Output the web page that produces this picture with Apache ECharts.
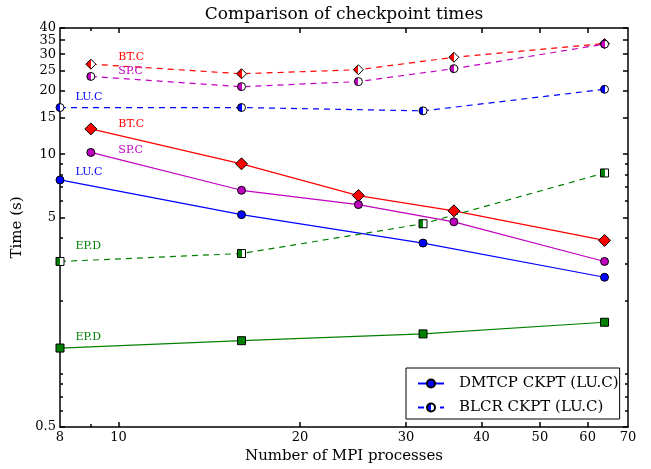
<!DOCTYPE html>
<html><head><meta charset="utf-8">
<script src="https://cdn.jsdelivr.net/npm/echarts@6/dist/echarts.min.js"></script>
<style>html,body{margin:0;padding:0;background:#fff}#c{width:651px;height:469px}</style>
</head><body><div id="c"></div>
<script>
// ---- data ----
const procsLU = [8, 16, 32, 64];
const procsBTSP = [9, 16, 25, 36, 64];
const procsEP = [8, 16, 32, 64];
const dmtcpLU = [7.54, 5.15, 3.77, 2.59];
const blcrLU = [16.7, 16.7, 16.1, 20.4];
const dmtcpBT = [13.2, 9.0, 6.35, 5.37, 3.88];
const blcrBT = [26.9, 24.2, 25.3, 29.0, 33.7];
const dmtcpSP = [10.2, 6.73, 5.75, 4.76, 3.08];
const blcrSP = [23.5, 21.0, 22.2, 25.6, 33.5];
const dmtcpEP = [1.19, 1.29, 1.39, 1.58];
const blcrEP = [3.08, 3.36, 4.66, 8.14];
const xLabelTicks = [8, 10, 20, 30, 40, 50, 60, 70];
const xMajorTicks = [10, 20, 30, 40, 50, 60];
const xMinorTicks = [9];
const yLabelTicks = [0.5, 5, 10, 15, 20, 25, 30, 35, 40];
const yMinorTicks = [0.6, 0.7, 0.8, 0.9, 2, 3, 4, 6, 7, 8, 9];

const FONT = 'DejaVu Serif';
const RED = '#ff0000', MAG = '#bf00bf', BLUE = '#0000ff', GREEN = '#008000';

function half(c) {
  return {type: 'linear', x: 0, y: 0, x2: 1, y2: 0, colorStops: [
    {offset: 0, color: c}, {offset: 0.5, color: c},
    {offset: 0.5, color: '#ffffff'}, {offset: 1, color: '#ffffff'}]};
}
function mk(name, xs, ys, color, dashed, symbol, size, labelText, lo) {
  const data = xs.map((x, i) => {
    const d = {value: [x, ys[i]]};
    if (i === 0) d.label = {show: true, formatter: labelText, position: 'right', distance: 0,
      offset: lo, color: color, fontFamily: FONT, fontSize: 11};
    return d;
  });
  return {
    name: name, type: 'line', data: data, symbol: symbol, symbolSize: size,
    xAxisIndex: 0, yAxisIndex: 0,
    lineStyle: {color: color, width: 1.2, type: dashed ? [6, 5] : 'solid'},
    itemStyle: {color: dashed ? half(color) : color, borderColor: '#000', borderWidth: 1},
    emphasis: {disabled: true},
    animation: false
  };
}

const tickStyle = {color: '#000', width: 1.5};
function labelCfg(labels) {
  return labels ? {show: true, customValues: labels, fontFamily: FONT, fontSize: 13, color: '#000',
    margin: 4, showMinLabel: true, showMaxLabel: true, hideOverlap: false}
    : {show: false};
}
function xAx(pos, ticks, len, labels, line) {
  return {type: 'log', logBase: 10, min: 8, max: 70.0001, position: pos, gridIndex: 0,
    axisLine: {show: line, onZero: false, lineStyle: {color: '#000', width: 1.5}},
    axisTick: {show: true, inside: true, length: len, customValues: ticks, lineStyle: tickStyle},
    axisLabel: labelCfg(labels),
    splitLine: {show: false}, minorTick: {show: false}, minorSplitLine: {show: false}};
}
function yAx(pos, ticks, len, labels, line) {
  return {type: 'log', logBase: 10, min: 0.5, max: 40.0001, position: pos, gridIndex: 0,
    axisLine: {show: line, onZero: false, lineStyle: {color: '#000', width: 1.5}},
    axisTick: {show: true, inside: true, length: len, customValues: ticks, lineStyle: tickStyle},
    axisLabel: labelCfg(labels),
    splitLine: {show: false}, minorTick: {show: false}, minorSplitLine: {show: false}};
}

const xMain = xAx('bottom', xMajorTicks, 5, xLabelTicks, true);
xMain.name = 'Number of MPI processes';
xMain.nameLocation = 'middle';
xMain.nameGap = 22;
xMain.nameTextStyle = {fontFamily: FONT, fontSize: 15, color: '#000'};
// labels split over two overlapping left axes so the tightly packed top labels are all kept
const yMain = yAx('left', yLabelTicks, 5, yLabelTicks.slice(0, -1), true);
yMain.name = 'Time (s)';
yMain.nameLocation = 'middle';
yMain.nameGap = 27;
yMain.nameTextStyle = {fontFamily: FONT, fontSize: 15, color: '#000'};
const yMinorLeft = yAx('left', yMinorTicks, 3, yLabelTicks.slice(-1), false);

const option = {
  animation: false,
  backgroundColor: '#ffffff',
  title: {text: 'Comparison of checkpoint times', left: 344, top: 6, textAlign: 'center', padding: 0,
    textStyle: {fontFamily: FONT, fontSize: 17, fontWeight: 'normal', color: '#000'}},
  grid: {left: 60, right: 23, top: 28, bottom: 42, containLabel: false, outerBoundsMode: 'none'},
  xAxis: [xMain,
    xAx('bottom', xMinorTicks, 3, null, false),
    xAx('top', xMajorTicks, 5, null, true),
    xAx('top', xMinorTicks, 3, null, false)],
  yAxis: [yMain,
    yMinorLeft,
    yAx('right', yLabelTicks, 5, null, true),
    yAx('right', yMinorTicks, 3, null, false)],
  legend: {
    data: ['DMTCP CKPT (LU.C)', 'BLCR CKPT (LU.C)'],
    orient: 'vertical', left: 406, top: 368,
    backgroundColor: '#fff', borderColor: '#000', borderWidth: 1, borderRadius: 0,
    padding: [8, 1, 4, 11], itemGap: 9, itemWidth: 26, itemHeight: 10,
    textStyle: {fontFamily: FONT, fontSize: 15, color: '#000', padding: [0, 0, 0, 10]},
    selectedMode: false
  },
  series: [
    mk('DMTCP CKPT (LU.C)', procsLU, dmtcpLU, BLUE, false, 'circle', 8, 'LU.C', [11, -8]),
    mk('BLCR CKPT (LU.C)', procsLU, blcrLU, BLUE, true, 'circle', 8, 'LU.C', [11, -10]),
    mk('DMTCP CKPT (BT.C)', procsBTSP, dmtcpBT, RED, false, 'diamond', 12, 'BT.C', [21, -5]),
    mk('BLCR CKPT (BT.C)', procsBTSP, blcrBT, RED, true, 'diamond', 10, 'BT.C', [22, -7]),
    mk('DMTCP CKPT (SP.C)', procsBTSP, dmtcpSP, MAG, false, 'circle', 8, 'SP.C', [23, -2]),
    mk('BLCR CKPT (SP.C)', procsBTSP, blcrSP, MAG, true, 'circle', 8, 'SP.C', [23, -5]),
    mk('DMTCP CKPT (EP.D)', procsEP, dmtcpEP, GREEN, false, 'rect', 8, 'EP.D', [11, -11]),
    mk('BLCR CKPT (EP.D)', procsEP, blcrEP, GREEN, true, 'rect', 8, 'EP.D', [11, -15])
  ]
};
const chart = echarts.init(document.getElementById('c'), null, {renderer: 'canvas'});
chart.setOption(option);
</script>
</body></html>
